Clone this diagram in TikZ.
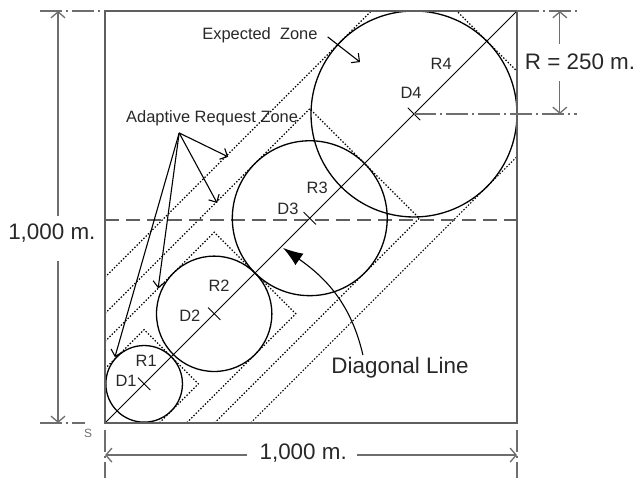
\documentclass[tikz,border=0pt]{standalone}
\usepackage{fontspec}
\setmainfont{Liberation Sans}
\usetikzlibrary{arrows.meta,calc,positioning}
\definecolor{boxgray}{RGB}{95,95,95}
\definecolor{dimgray}{RGB}{110,110,110}
\definecolor{txtgray}{RGB}{40,40,40}
\tikzset{
  zone/.style={line width=1.2bp,dash pattern=on 1.4bp off 1.8bp},
  circ/.style={line width=1.3bp},
  midline/.style={boxgray,line width=2bp,dash pattern=on 14bp off 7bp},
  dimline/.style={dimgray,line width=1.4bp,dash pattern=on 22bp off 4bp on 2bp off 4bp},
  dimarrow/.style={dimgray,line width=1.3bp,-{Straight Barb[length=6bp,width=14bp]}},
  ptr/.style={line width=1.1bp,-{Straight Barb[length=6bp,width=12bp]}},
  lbl/.style={font=\fontsize{16.5}{18}\selectfont,text=txtgray,inner sep=1bp},
  biglbl/.style={font=\fontsize{22.5}{25}\selectfont,text=txtgray,inner sep=2bp}
}
\begin{document}
\begin{tikzpicture}[x=41.2bp,y=41.2bp]
  \useasboundingbox (-2.549,-1.335) rectangle (13.01,10.267);
  \coordinate (S) at (0,0);
  \coordinate (E) at (10,10);
  % request zones (clipped to the field)
  \begin{scope}
    \clip (S) rectangle (E);
    \foreach \c/\r in {0.95/0.93,2.65/1.4,4.97/1.88,7.5/2.5}{
      \pgfmathsetmacro\s{\r*sqrt(2)}
      \draw[zone] (0,\s) -- (\c,\c+\s) -- (\c+\s,\c) -- (\s,0);
    }
  \end{scope}
  \draw[midline] (0,4.92) -- (10,4.92);
  % expected zones
  \foreach \n/\c/\r/\rx/\ry/\dx/\dy in {1/0.95/0.93/1.0/1.5/0.51/1.02,
      2/2.65/1.4/2.77/3.33/2.06/2.6, 3/4.97/1.88/5.15/5.7/4.44/5.19,
      4/7.5/2.5/8.16/8.71/7.43/8.01}{
    \coordinate (D\n) at (\c,\c);
    \draw[circ] (D\n) circle (\r);
    \draw[line width=0.9bp] ($(D\n)+(-0.15,0.15)$) -- ($(D\n)+(0.15,-0.15)$);
    \node[lbl] (R\n lbl) at (\rx,\ry) {R\n};
    \node[lbl] (D\n lbl) at (\dx,\dy) {D\n};
  }
  \draw[line width=0.9bp] (S) -- (E);
  \draw[boxgray,line width=2.8bp] (S) rectangle (E);
  \node[font=\fontsize{12}{14}\selectfont,text=dimgray] (Slbl) at (-0.41,-0.26) {S};
  % left dimension
  \coordinate (LT) at (-1.14,10);
  \coordinate (LB) at (-1.14,0);
  \draw[dimline] (-1.58,10) -- (-0.12,10);
  \draw[dimline] (-1.58,0) -- (-0.49,0);
  \node[biglbl] (lw) at (-1.29,4.61) {1,000 m.};
  \draw[dimarrow] ([yshift=6bp]lw.north -| LT) -- (LT);
  \draw[dimarrow] ([yshift=-16bp]lw.south -| LB) -- (LB);
  % bottom dimension
  \coordinate (BL) at (0,-0.78);
  \coordinate (BR) at (10,-0.78);
  \draw[dimline] (0,-0.17) -- (0,-1.335);
  \draw[dimline] (10,-0.17) -- (10,-1.335);
  \node[biglbl] (bw) at (4.81,-0.72) {1,000 m.};
  \draw[dimarrow] ([xshift=-10bp]bw.west |- BL) -- (BL);
  \draw[dimarrow] ([xshift=8bp]bw.east |- BR) -- (BR);
  % radius
  \coordinate (RT) at (11.04,10);
  \coordinate (RB) at (11.04,7.5);
  \draw[dimline] (E) -- (11.46,10);
  \draw[dimline] (D4) -- (11.46,7.5);
  \node[biglbl] (rr) at (11.53,8.76) {R = 250 m.};
  \draw[dimarrow] ([yshift=8bp]rr.north -| RT) -- (RT);
  \draw[dimarrow] ([yshift=-9bp]rr.south -| RB) -- (RB);
  % pointers
  \node[lbl] (exz) at (3.76,9.42) {Expected\ \ Zone};
  \coordinate (ez) at (6.19,8.76);
  \draw[ptr] ([xshift=9bp,yshift=-2bp]exz.east) -- (ez);
  \node[lbl] (adz) at (2.6,7.4) {Adaptive Request Zone};
  \coordinate (az) at (1.8,7.04);
  \coordinate (az1) at (2.99,6.46);
  \coordinate (az2) at (2.72,5.34);
  \coordinate (az3) at (1.29,3.27);
  \coordinate (az4) at (0.24,1.6);
  \foreach \k in {1,...,4}{
    \draw[ptr] (az) -- (az\k);
  }
  \node[biglbl] (dgl) at (7.16,1.33) {Diagonal Line};
  \coordinate (dstart) at (6.26,1.65);
  \coordinate (dtip) at (4.32,4.25);
  \draw[line width=1.1bp,-{Latex[length=20bp,width=14bp]}] (dstart) to[out=103,in=-35] (dtip);
\end{tikzpicture}
\end{document}
